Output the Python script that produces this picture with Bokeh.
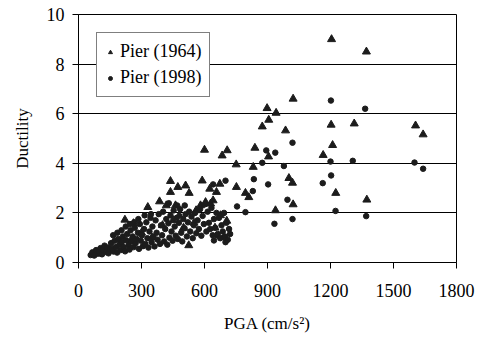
from bokeh.plotting import figure
from bokeh.models import FixedTicker, Legend, LegendItem, Range1d
from bokeh.embed import file_html
from bokeh.resources import INLINE

# ---- data ----
pga_1964 = [1205, 1371, 1022, 898, 941, 906, 875, 986, 1203, 1313, 1605, 1641,
            1210, 1165, 1002, 1019, 1225, 1373, 1022, 938,
            600, 684, 708, 840, 751, 832, 905,
            438, 438, 473, 510, 527, 589, 625, 657, 673, 752, 795, 811,
            581, 605, 629, 641, 676, 706, 525,
            221, 262, 330, 386, 418, 462,
            100, 150, 250, 300, 350, 400, 450, 500, 550, 650, 200, 560, 480]
duct_1964 = [9.0, 8.5, 6.6, 6.22, 6.03, 5.75, 5.48, 5.32, 5.55, 5.6, 5.52, 5.16,
             4.73, 4.33, 3.4, 3.21, 2.8, 2.53, 2.34, 2.1,
             4.54, 4.31, 4.52, 4.62, 3.95, 3.85, 4.27,
             3.28, 2.84, 3.04, 3.1, 2.8, 3.3, 2.97, 2.84, 3.17, 3.04, 2.8, 2.63,
             2.3, 2.43, 2.37, 2.5, 1.9, 1.68, 0.69,
             1.72, 1.58, 2.23, 2.46, 2.3, 2.3,
             0.35, 0.5, 0.9, 1.2, 1.0, 1.5, 1.7, 1.4, 1.6, 1.4, 0.8, 2.1, 1.9]

pga_1998 = [1202, 1365, 1019, 937, 894, 1200, 1306, 1600, 1641, 978, 875, 1203,
            1163, 903, 995, 1224, 1370, 933, 1019, 835, 700, 641, 830, 755, 795,
            430, 470, 506, 700, 692, 660, 645,
            58, 66, 75, 84, 92, 97, 105, 112, 118, 124, 131, 136, 143, 149, 155,
            161, 167, 172, 178, 184, 189, 195, 201, 206, 211, 216, 222, 227, 232,
            238, 243, 248, 253, 258, 263, 268, 272, 277, 283, 288, 292, 297, 302,
            307, 312, 318, 323, 328, 333, 338, 343, 348, 352, 357, 362, 367, 372,
            377, 382, 388, 393, 398, 403, 408, 413, 418, 423, 428, 433, 438, 443,
            448, 453, 458, 463, 468, 473, 478, 484, 489, 494, 499, 505, 510, 516,
            521, 527, 532, 538, 544, 549, 555, 561, 567, 573, 579, 585, 591, 597,
            603, 609, 615, 621, 627, 633, 639, 645, 651, 657, 663, 669, 675, 681,
            687, 693, 699, 705, 711, 717, 722,
            225, 245, 265, 205, 165, 185, 285, 315, 345]
duct_1998 = [6.53, 6.2, 4.83, 4.43, 4.52, 4.07, 4.1, 4.03, 3.78, 3.89, 4.02, 3.51,
             3.2, 3.15, 2.53, 2.08, 1.87, 1.56, 1.75, 3.36, 3.3, 3.15, 2.88, 2.26, 2.03,
             2.39, 2.3, 2.3, 0.82, 1.02, 1.09, 0.89,
             0.30, 0.41, 0.28, 0.50, 0.37, 0.44, 0.58, 0.33, 0.49, 0.68, 0.42, 0.60,
             0.37, 0.52, 0.78, 0.55, 0.44, 0.88, 0.62, 0.40, 0.95, 0.72, 0.50, 0.83,
             1.05, 0.60, 0.45, 0.90, 1.15, 0.70, 0.52, 1.30, 0.85, 1.05, 0.62, 1.40,
             0.78, 0.95, 1.20, 0.55, 1.55, 0.88, 1.10, 0.66, 1.35, 0.75, 1.62, 0.98,
             0.60, 1.25, 1.80, 0.82, 1.45, 1.05, 0.65, 1.70, 1.20, 0.92, 1.95, 0.75,
             1.50, 1.10, 2.05, 0.85, 1.35, 1.75, 0.72, 1.58, 1.00, 1.90, 1.25, 0.88,
             2.10, 1.45, 1.08, 1.80, 0.95, 1.60, 2.15, 1.20, 0.85, 1.75, 1.38, 1.95,
             1.05, 1.62, 2.05, 1.25, 1.85, 0.98, 1.50, 2.00, 1.18, 1.70, 1.35, 2.15,
             1.08, 1.88, 1.55, 2.35, 1.25, 2.05, 1.60, 1.35, 2.20, 1.10, 1.75, 1.40,
             2.00, 1.15, 1.80, 0.98, 1.50, 1.25, 2.00, 1.05, 1.60, 0.92, 1.35, 1.15,
             1.45, 1.55, 1.62, 1.30, 1.10, 1.20, 1.75, 1.90, 1.95]

x_ticks = [0, 300, 600, 900, 1200, 1500, 1800]
y_ticks = [0, 2, 4, 6, 8, 10]
label_1964 = "Pier (1964)"
label_1998 = "Pier (1998)"

FONT = "Liberation Serif"
INK = "#1c1c1c"

p = figure(width=479, height=345, output_backend="svg", toolbar_location=None,
           x_range=Range1d(0, 1800), y_range=Range1d(0, 10),
           min_border_left=78, min_border_right=23, min_border_top=14,
           min_border_bottom=83)
p.background_fill_color = "white"
p.border_fill_color = "white"
p.outline_line_color = "black"
p.outline_line_width = 1

r64 = p.scatter(pga_1964, duct_1964, marker="triangle", size=8,
                fill_color=INK, line_color=INK)
r98 = p.scatter(pga_1998, duct_1998, marker="circle", size=5.5,
                fill_color=INK, line_color=INK)

p.xaxis.ticker = FixedTicker(ticks=x_ticks)
p.yaxis.ticker = FixedTicker(ticks=y_ticks)
p.xgrid.visible = False
p.ygrid.grid_line_color = "black"
p.ygrid.grid_line_width = 1
p.ygrid.grid_line_alpha = 1

for ax in (p.xaxis, p.yaxis):
    ax.axis_line_color = "black"
    ax.major_tick_line_color = "black"
    ax.minor_tick_line_color = None
    ax.major_tick_in = 0
    ax.major_tick_out = 6
    ax.major_label_text_font = FONT
    ax.major_label_text_font_size = "18px"
    ax.major_label_text_color = "black"
    ax.axis_label_text_font = FONT
    ax.axis_label_text_font_size = "17px"
    ax.axis_label_text_font_style = "normal"
    ax.axis_label_text_color = "black"

p.xaxis.axis_label = "PGA (cm/s²)"
p.yaxis.axis_label = "Ductility"
p.xaxis.major_label_standoff = 15
p.xaxis.axis_label_standoff = 14
p.yaxis.major_label_standoff = 8
p.yaxis.axis_label_standoff = 12

legend = Legend(items=[LegendItem(label=label_1964, renderers=[r64]),
                       LegendItem(label=label_1998, renderers=[r98])],
                location="top_left", margin=18, padding=8, spacing=5,
                glyph_width=10, glyph_height=20, label_height=20,
                label_standoff=5,
                label_text_font=FONT, label_text_font_size="18px",
                label_text_color="black",
                border_line_color="black", border_line_width=1,
                background_fill_color="white", background_fill_alpha=1)
p.add_layout(legend)

open("out.html", "w").write(file_html(p, INLINE))
